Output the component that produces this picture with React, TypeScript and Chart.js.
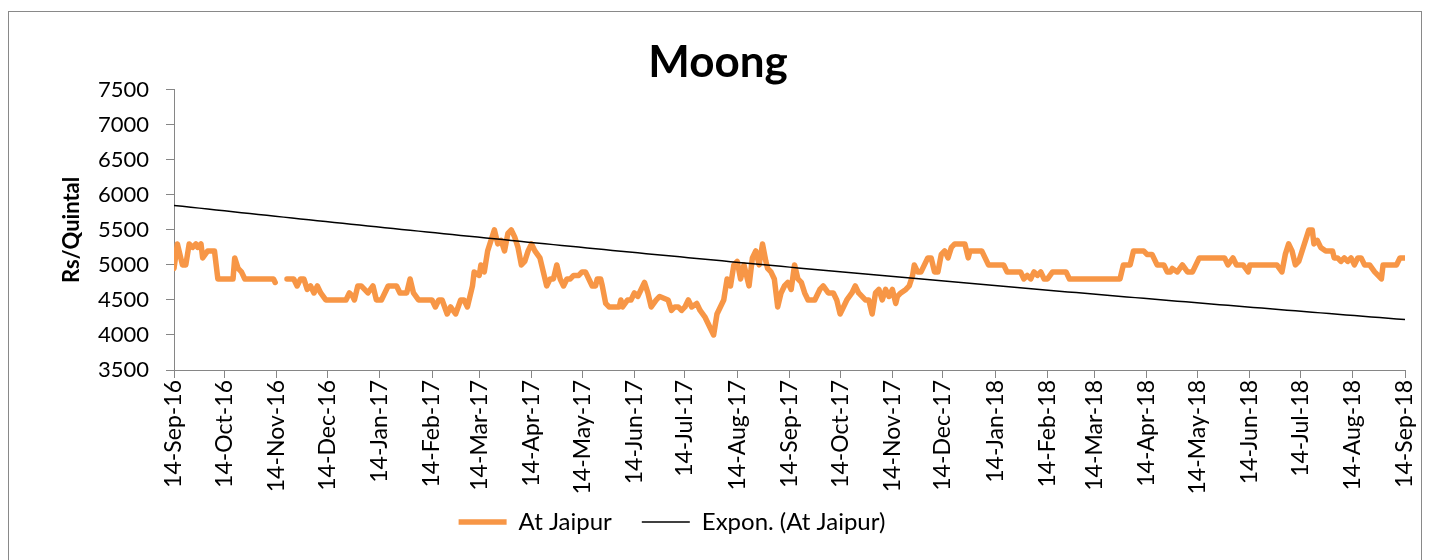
import { useEffect, useRef } from "react";
import { Chart, registerables } from "chart.js";

Chart.register(...registerables);

const TITLE = "Moong";
const Y_TITLE = "Rs/Quintal";
const SERIES_LABEL = "At Jaipur";
const TREND_LABEL = "Expon. (At Jaipur)";

// x values: days since 14-Sep-2016
const dayOffsets = [
  0, 2, 5, 7, 9, 11, 13, 14, 16, 17, 20, 24, 26, 35, 36, 38, 40, 42, 59, 60, 63, 67, 71, 73, 75, 77, 79, 81, 83, 85, 87, 90,
  102, 104, 106, 107, 109, 111, 113, 115, 118, 120, 123, 125, 127, 130, 132, 134, 138, 140, 142, 145, 153, 155, 157, 159,
  162, 164, 167, 170, 172, 174, 176, 177, 178, 181, 182, 184, 186, 188, 190, 192, 194, 196, 198, 200, 202, 204, 206, 208,
  210, 212, 214, 217, 219, 221, 223, 225, 227, 229, 231, 233, 235, 237, 240, 242, 244, 246, 248, 250, 251, 253, 254, 256,
  258, 264, 265, 266, 269, 271, 273, 275, 277, 279, 281, 283, 286, 288, 293, 295, 297, 299, 301, 303, 305, 307, 310, 312,
  315, 317, 319, 320, 322, 324, 326, 328, 330, 332, 334, 336, 338, 341, 343, 345, 347, 349, 351, 352, 354, 356, 358, 360,
  362, 364, 366, 368, 370, 372, 374, 376, 380, 383, 385, 388, 391, 393, 395, 397, 399, 402, 404, 406, 408, 410, 412, 414,
  416, 418, 420, 422, 424, 426, 428, 429, 431, 434, 436, 438, 439, 441, 443, 445, 447, 449, 451, 453, 455, 457, 459, 461,
  463, 465, 467, 469, 471, 472, 479, 481, 483, 492, 494, 500, 502, 504, 506, 508, 510, 512, 514, 516, 518, 521, 529, 531,
  561, 563, 567, 569, 575, 577, 580, 583, 587, 589, 591, 592, 595, 598, 601, 604, 606, 608, 623, 625, 628, 630, 634, 637,
  638, 654, 657, 659, 661, 663, 665, 667, 669, 671, 673, 675, 676, 678, 680, 683, 685, 687, 688, 690, 692, 694, 696, 698,
  700, 702, 704, 706, 709, 712, 714, 716, 717, 719, 725, 727, 730,
];

const prices: (number | null)[] = [
  4950, 5300, 5000, 5000, 5300, 5250, 5300, 5250, 5300, 5100, 5200, 5200, 4800, 4800, 5100, 4950, 4900, 4800, 4800, 4750, null, 4800, 4800, 4700, 4800, 4800, 4650, 4700, 4600, 4700, 4600, 4500,
  4500, 4600, 4550, 4500, 4700, 4700, 4650, 4600, 4700, 4500, 4500, 4600, 4700, 4700, 4700, 4600, 4600, 4800, 4600, 4500, 4500, 4400, 4500, 4500,
  4300, 4400, 4300, 4500, 4500, 4400, 4600, 4700, 4900, 4850, 5000, 4900, 5200, 5350, 5500, 5300, 5350, 5200, 5450, 5500, 5400, 5250, 5000, 5050,
  5200, 5300, 5200, 5100, 4900, 4700, 4800, 4800, 5000, 4800, 4700, 4800, 4800, 4850, 4850, 4900, 4900, 4800, 4700, 4700, 4800, 4800, 4700, 4450,
  4400, 4400, 4500, 4400, 4500, 4500, 4600, 4550, 4650, 4750, 4600, 4400, 4500, 4550, 4500, 4350, 4400, 4400, 4350, 4400, 4500, 4400, 4450, 4350,
  4250, 4150, 4050, 4000, 4300, 4400, 4500, 4800, 4700, 5000, 5050, 4800, 5000, 4700, 5100, 5200, 5000, 5300, 5050, 4950, 4900, 4800, 4400, 4600,
  4700, 4750, 4650, 5000, 4800, 4750, 4600, 4500, 4500, 4650, 4700, 4600, 4600, 4500, 4300, 4400, 4500, 4600, 4700, 4600, 4550, 4500, 4500, 4300,
  4600, 4650, 4500, 4650, 4550, 4650, 4450, 4550, 4600, 4650, 4700, 4850, 5000, 4900, 4900, 5000, 5100, 5100, 4900, 4900, 5150, 5200, 5100, 5250,
  5300, 5300, 5300, 5300, 5100, 5200, 5200, 5100, 5000, 5000, 4900, 4900, 4900, 4800, 4850, 4800, 4900, 4850, 4900, 4800, 4800, 4900, 4900, 4800,
  4800, 5000, 5000, 5200, 5200, 5150, 5150, 5000, 5000, 4900, 4900, 4950, 4900, 5000, 4900, 4900, 5000, 5100, 5100, 5000, 5100, 5000, 5000, 4900,
  5000, 5000, 4900, 5150, 5300, 5200, 5000, 5050, 5200, 5350, 5500, 5500, 5300, 5350, 5250, 5200, 5200, 5200, 5100, 5100, 5050, 5100, 5050, 5100,
  5000, 5100, 5100, 5000, 5000, 4900, 4850, 4800, 5000, 5000, 5000, 5100, 5100,
];

const tickLabels = [
  "14-Sep-16", "14-Oct-16", "14-Nov-16", "14-Dec-16", "14-Jan-17", "14-Feb-17", "14-Mar-17", "14-Apr-17", "14-May-17",
  "14-Jun-17", "14-Jul-17", "14-Aug-17", "14-Sep-17", "14-Oct-17", "14-Nov-17", "14-Dec-17", "14-Jan-18", "14-Feb-18",
  "14-Mar-18", "14-Apr-18", "14-May-18", "14-Jun-18", "14-Jul-18", "14-Aug-18", "14-Sep-18",
];

// Excel exponential trendline, values read at both ends of the axis
const trendStartValue = 5850;
const trendEndValue = 4220;

const Y_MIN = 3500;
const Y_MAX = 7500;
const Y_STEP = 500;

const MONTHS = ["Jan", "Feb", "Mar", "Apr", "May", "Jun", "Jul", "Aug", "Sep", "Oct", "Nov", "Dec"];
const START = Date.UTC(2016, 8, 14);
const labelToDay = (s: string) => {
  const [d, m, y] = s.split("-");
  return Math.round((Date.UTC(2000 + Number(y), MONTHS.indexOf(m), Number(d)) - START) / 86400000);
};
const tickDays = tickLabels.map(labelToDay);
const X_MAX = tickDays[tickDays.length - 1];

const FONT = "Lato, 'Open Sans', sans-serif";
const LEGEND_DX = -46;
const LEGEND_DY = -16;

export default function App() {
  const ref = useRef<HTMLCanvasElement | null>(null);

  useEffect(() => {
    if (!ref.current) return;
    const seriesData = dayOffsets.map((d, i) => ({ x: d, y: prices[i] }));
    const trendData: { x: number; y: number }[] = [];
    for (let d = 0; d <= X_MAX; d += 5) {
      trendData.push({ x: d, y: trendStartValue * Math.pow(trendEndValue / trendStartValue, d / X_MAX) });
    }
    if (trendData[trendData.length - 1].x !== X_MAX) trendData.push({ x: X_MAX, y: trendEndValue });

    const legendShift = {
      id: "legendShift",
      afterLayout(chart: any) {
        const l = chart.legend;
        if (l) {
          l.left += LEGEND_DX;
          l.right += LEGEND_DX;
          l.top += LEGEND_DY;
          l.bottom += LEGEND_DY;
        }
      },
    };

    const chart = new Chart(ref.current, {
      type: "line",
      data: {
        datasets: [
          {
            label: SERIES_LABEL,
            data: seriesData as any,
            borderColor: "#F79646",
            backgroundColor: "#F79646",
            borderWidth: 5.5,
            pointRadius: 0,
            tension: 0,
            spanGaps: false,
            borderJoinStyle: "round",
            borderCapStyle: "round",
            order: 2,
          },
          {
            label: TREND_LABEL,
            data: trendData,
            borderColor: "#000000",
            backgroundColor: "#000000",
            borderWidth: 1.5,
            pointRadius: 0,
            tension: 0,
            order: 1,
          },
        ],
      },
      options: {
        animation: false,
        responsive: false,
        layout: { padding: { left: 22, right: 16, top: 0, bottom: 0 } },
        plugins: {
          title: {
            display: true,
            text: TITLE,
            color: "#000",
            font: { family: FONT, size: 44, weight: "bold" },
            padding: { top: 24, bottom: 1 },
          },
          legend: {
            display: true,
            position: "bottom",
            labels: {
              usePointStyle: true,
              pointStyle: "line",
              pointStyleWidth: 48,
              color: "#000",
              padding: 30,
              font: { family: FONT, size: 24 },
              sort: (a: any, b: any) => a.datasetIndex - b.datasetIndex,
            },
          },
          tooltip: { enabled: false },
        },
        scales: {
          x: {
            type: "linear",
            min: 0,
            max: X_MAX,
            afterBuildTicks: (scale: any) => {
              scale.ticks = tickDays.map((v) => ({ value: v }));
            },
            afterFit: (scale: any) => {
              scale.height = 126;
              scale.paddingLeft = 0;
              scale.paddingRight = 0;
            },
            ticks: {
              autoSkip: false,
              maxRotation: 90,
              minRotation: 90,
              padding: 2,
              color: "#000",
              font: { family: FONT, size: 23 },
              callback: (v: any) => {
                const i = tickDays.indexOf(Number(v));
                return i >= 0 ? tickLabels[i] : "";
              },
            },
            grid: { drawOnChartArea: false, drawTicks: true, tickLength: 8, color: "#868686", lineWidth: 1 },
            border: { display: true, color: "#868686", width: 1 },
          },
          y: {
            min: Y_MIN,
            max: Y_MAX,
            afterFit: (scale: any) => {
              scale.width = 143;
            },
            ticks: {
              stepSize: Y_STEP,
              padding: 17,
              color: "#000",
              font: { family: FONT, size: 22 },
              callback: (v: any) => String(v),
            },
            title: {
              display: true,
              text: Y_TITLE,
              color: "#000",
              font: { family: FONT, size: 22, weight: "bold" },
              padding: { top: 28, bottom: 0 },
            },
            grid: { drawOnChartArea: false, drawTicks: true, tickLength: 8, color: "#868686", lineWidth: 1 },
            border: { display: true, color: "#868686", width: 1 },
          },
        },
      },
      plugins: [legendShift],
    });
    return () => chart.destroy();
  }, []);

  return (
    <div
      style={{
        position: "fixed",
        left: 8,
        top: 11,
        width: 1412,
        height: 560,
        border: "1px solid #898989",
        background: "#fff",
      }}
    >
      <canvas ref={ref} width={1412} height={548} style={{ display: "block", width: 1412, height: 548 }} />
    </div>
  );
}
